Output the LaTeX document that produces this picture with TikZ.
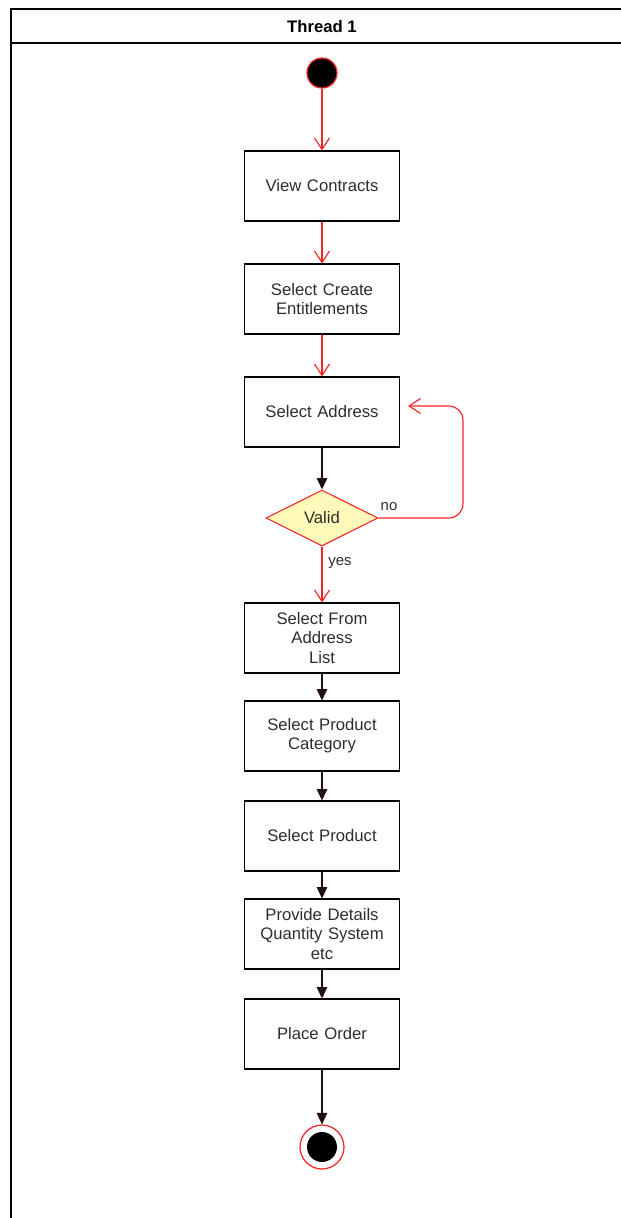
\documentclass[tikz,border=0pt]{standalone}
\usepackage{fontspec}
\setmainfont{Liberation Sans}
\usepackage{tikz}
\usetikzlibrary{shapes.geometric, arrows.meta, calc}
\definecolor{flowred}{RGB}{250, 35, 35}
\definecolor{flowdark}{RGB}{35, 15, 15}
\definecolor{labelgrey}{RGB}{45, 45, 45}
\definecolor{guard}{RGB}{255, 250, 185}

\begin{document}
\begin{tikzpicture}[x=0.02cm, y=-0.02cm,
  every node/.style={font=\fontsize{9.5}{11}\selectfont, text=labelgrey},
  activity/.style={draw=black, line width=0.6pt, minimum width=3.1cm,
    minimum height=1.4cm, align=center, text width=2.6cm, inner sep=0pt},
  decision/.style={diamond, draw=flowred, fill=guard, line width=0.6pt,
    minimum width=2.24cm, minimum height=1.12cm, inner sep=0pt},
  redflow/.style={draw=flowred, line width=0.65pt,
    -{Straight Barb[length=6.5pt, width=8.5pt]}},
  darkflow/.style={draw=flowdark, line width=0.65pt,
    -{Triangle[length=6.5pt, width=6pt]}}]

  \useasboundingbox (0, 0) rectangle (621, 1218);

  % swimlane
  \draw[line width=0.6pt] (11, 1218) -- (11, 9) -- (621, 9);
  \draw[line width=0.6pt] (11, 43) -- (621, 43);
  \node[font=\fontsize{9.5}{11}\selectfont\bfseries, text=black] (lane) at (322, 27) {Thread 1};

  % start and end
  \node[circle, fill=black, draw=flowred, line width=0.7pt, minimum size=0.6cm, inner sep=0pt] (start) at (322, 73) {};
  \node[circle, fill=white, draw=flowred, line width=0.7pt, minimum size=0.88cm, inner sep=0pt] (finish) at (322, 1147) {};
  \fill[black] (finish.center) circle (15);

  % activities
  \node[activity] (contracts) at (322, 186) {View Contracts};
  \node[activity] (entitle) at (322, 299) {Select Create\\Entitlements};
  \node[activity] (address) at (322, 412) {Select Address};
  \node[decision] (valid) at (322, 518) {Valid};
  \node[activity] (fromlist) at (322, 638) {Select From\\Address\\List};
  \node[activity] (category) at (322, 736) {Select Product\\Category};
  \node[activity] (product) at (322, 836) {Select Product};
  \node[activity] (details) at (322, 934) {Provide Details\\Quantity System\\etc};
  \node[activity] (order) at (322, 1034) {Place Order};

  % flows
  \draw[redflow] (start) -- (contracts);
  \draw[redflow] (contracts) -- (entitle);
  \draw[redflow] (entitle) -- (address);
  \draw[darkflow] (address) -- (valid);
  \draw[redflow] (valid) -- node[right, pos=0.3, font=\fontsize{8.5}{10}\selectfont] (yes) {yes} (fromlist);
  \draw[darkflow] (fromlist) -- (category);
  \draw[darkflow] (category) -- (product);
  \draw[darkflow] (product) -- (details);
  \draw[darkflow] (details) -- (order);
  \draw[darkflow] (order) -- (finish);

  \coordinate (back) at (408, 406);
  \draw[redflow, rounded corners=8] (valid.east) -- (463, 518) -- (463, 406) -- (back);
  \node[font=\fontsize{8.5}{10}\selectfont] (no) at (389, 507) {no};

\end{tikzpicture}
\end{document}
